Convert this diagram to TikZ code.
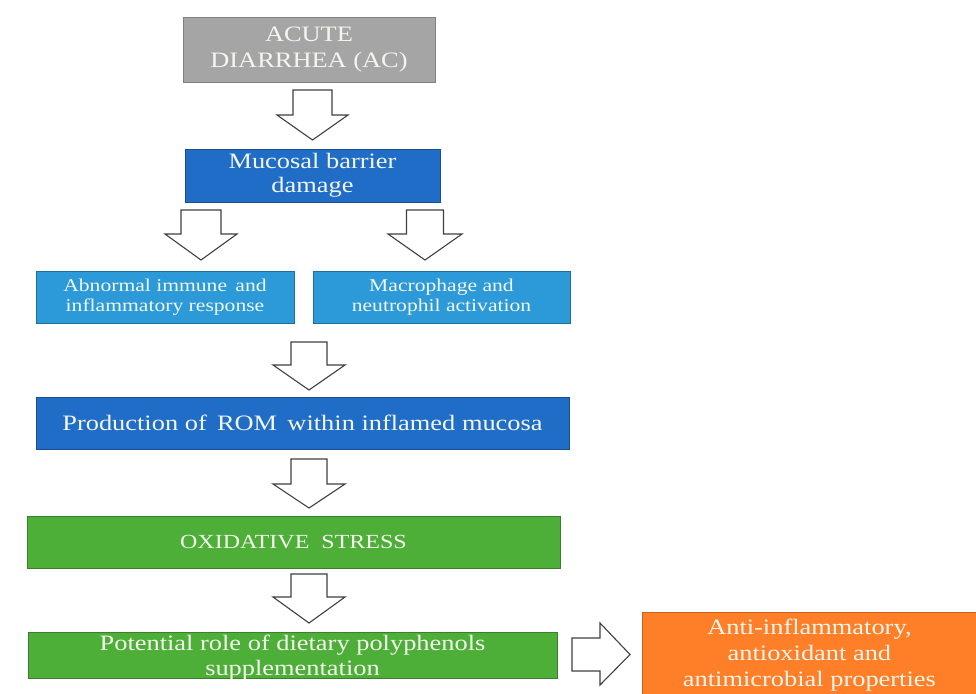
\documentclass[tikz,border=0pt]{standalone}
\usepackage{fontspec}
\setmainfont{Liberation Serif}[FakeStretch=1.2]
\definecolor{txt}{HTML}{F4F6EE}
\definecolor{grayf}{HTML}{A5A5A5}
\definecolor{grayd}{HTML}{808080}
\definecolor{blued}{HTML}{1F6DC6}
\definecolor{bluedb}{HTML}{1A4E8F}
\definecolor{bluel}{HTML}{2C9AD9}
\definecolor{bluelb}{HTML}{1F6E9E}
\definecolor{greenf}{HTML}{4DAE38}
\definecolor{greenb}{HTML}{3A7F2A}
\definecolor{orangef}{HTML}{FE7F27}
\definecolor{orangeb}{HTML}{C8611C}
\definecolor{arrowline}{HTML}{404040}
\newcommand{\DownBlockArrow}[6]{%
  \draw[barrow] ({#1-#4},#2) -- ({#1+#4},#2) -- ({#1+#4},#3) -- ({#1+#5},#3)
    -- (#1,#6) -- ({#1-#5},#3) -- ({#1-#4},#3) -- cycle;}
\begin{document}
\begin{tikzpicture}[x=1pt,y=-1pt,
  box/.style={draw, line width=0.8pt, text=txt, align=center, inner sep=0pt},
  big/.style={font=\fontsize{22}{25}\selectfont},
  small/.style={font=\fontsize{18}{20}\selectfont},
  barrow/.style={draw=arrowline, fill=white, line width=1.1pt, line join=miter}]
\useasboundingbox (0,0) rectangle (976,693);
\fill[white] (0,0) rectangle (976,693);

\node[box, big, fill=grayf, draw=grayd, minimum width=252pt, minimum height=65pt,
  font=\fontsize{22}{26}\selectfont] (ac) at (309,49.5) {ACUTE\\DIARRHEA (AC)};
\node[box, big, fill=blued, draw=bluedb, minimum width=255pt, minimum height=53pt,
  font=\fontsize{22}{24}\selectfont] (mbd) at (312.5,175.5) {Mucosal barrier\\damage};
\node[box, small, fill=bluel, draw=bluelb, minimum width=258pt, minimum height=52pt]
  (air) at (165,297) {Abnormal immune \,and\\inflammatory response};
\node[box, small, fill=bluel, draw=bluelb, minimum width=257pt, minimum height=52pt]
  (mna) at (441.5,297) {Macrophage and\\neutrophil activation};
\node[box, big, fill=blued, draw=bluedb, minimum width=533pt, minimum height=52pt]
  (rom) at (302.5,423) {Production of \,ROM \,within inflamed mucosa};
\node[box, fill=greenf, draw=greenb, minimum width=533pt, minimum height=52pt,
  font=\fontsize{20}{24}\selectfont] (ox) at (293.5,542) {OXIDATIVE\ \ STRESS};
\node[box, fill=greenf, draw=greenb, minimum width=529pt, minimum height=46pt]
  (pot) at (292.5,655) {};
\node[text=txt, align=center, inner sep=0pt, font=\fontsize{22}{24.5}\selectfont]
  (pottxt) at ([yshift=-2.5pt]pot.center) {Potential role of dietary polyphenols\\supplementation};
\node[box, fill=orangef, draw=orangeb, minimum width=334pt, minimum height=86pt,
  font=\fontsize{22}{26}\selectfont, anchor=north west] (aap) at (642,612)
  {Anti-inflammatory,\\antioxidant and\\antimicrobial properties};

% block arrows (centre x, top, neck, shaft half, head half, tip)
\DownBlockArrow{312.5}{90}{115}{19.5}{35.5}{140}
\DownBlockArrow{201}{210}{234}{20}{36}{260}
\DownBlockArrow{425}{210}{234}{18.5}{37}{260}
\DownBlockArrow{309}{342}{365}{18}{36}{390}
\DownBlockArrow{309}{459}{484}{18}{36}{508}
\DownBlockArrow{309}{574}{597}{18}{36}{623}
\draw[barrow] (572,638) -- (600,638) -- (600,623) -- (630,654.5) -- (600,685)
  -- (600,671) -- (572,671) -- cycle;
\end{tikzpicture}
\end{document}
